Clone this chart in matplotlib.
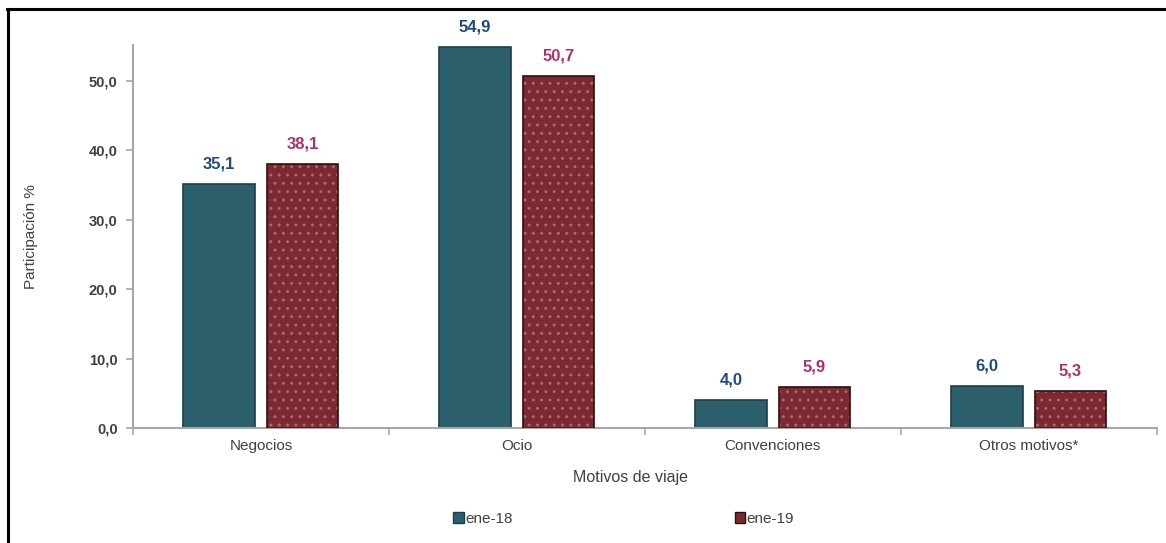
import numpy as np
import matplotlib.pyplot as plt
from matplotlib.lines import Line2D
from matplotlib.patches import Patch

# participacion por motivo de viaje
motivos = ['Negocios', 'Ocio', 'Convenciones', 'Otros motivos*']
ene18 = [35.1, 54.9, 4.0, 6.0]
ene19 = [38.1, 50.7, 5.9, 5.3]
series = ['ene-18', 'ene-19']

teal = '#2b5f6c'
wine = '#7b2a30'
dots = '#b8606e'
lbl18 = '#1f4b7a'
lbl19 = '#a8336e'
grey = '#a6a6a6'
txt = '#404040'

plt.rcParams['font.family'] = ['Liberation Sans', 'DejaVu Sans']

fig = plt.figure(figsize=(11.66, 5.43), dpi=100)
ax = fig.add_axes([0.114, 0.212, 0.878, 0.705])

x = np.arange(len(motivos)) + 0.5
w = 0.28
off = 0.163

ax.bar(x - off, ene18, w, color=teal, edgecolor='#1d3f48', linewidth=1.2, zorder=2)
ax.bar(x + off, ene19, w, color=wine, edgecolor=dots, hatch='..', linewidth=0, zorder=2)
ax.bar(x + off, ene19, w, fill=False, edgecolor='#2a0f12', linewidth=1.2, zorder=3)

for xi, v in zip(x - off, ene18):
    ax.text(xi, v + 1.8, f'{v:.1f}'.replace('.', ','), ha='center', va='bottom',
            fontsize=12, fontweight='bold', color=lbl18)
for xi, v in zip(x + off, ene19):
    ax.text(xi, v + 1.8, f'{v:.1f}'.replace('.', ','), ha='center', va='bottom',
            fontsize=12, fontweight='bold', color=lbl19)

ax.set_xlim(0, len(motivos))
ax.set_ylim(0, 55.2)
ax.set_yticks(np.arange(0, 51, 10))
ax.set_yticklabels([f'{t:.1f}'.replace('.', ',') for t in np.arange(0, 51, 10)],
                   fontsize=10.5, color=txt, fontweight='bold')
ax.set_xticks(np.arange(len(motivos) + 1))
ax.set_xticklabels([])
ax.set_xticks(x, minor=True)
ax.set_xticklabels(motivos, minor=True, fontsize=11, color=txt)
ax.tick_params(axis='x', which='minor', length=0, pad=8)
ax.tick_params(axis='x', which='major', length=5, color=grey, width=1.2)
ax.tick_params(axis='y', length=5, color=grey, width=1.2, pad=6)

for s in ['top', 'right']:
    ax.spines[s].set_visible(False)
for s in ['left', 'bottom']:
    ax.spines[s].set_color(grey)
    ax.spines[s].set_linewidth(1.5)

ax.set_ylabel('Participación %', fontsize=11, color=txt)
ax.yaxis.set_label_coords(-0.093, 0.5)
ax.set_xlabel('Motivos de viaje', fontsize=11.5, color=txt)
ax.xaxis.set_label_coords(0.486, -0.11)

handles = [Patch(facecolor=teal, edgecolor='#1d3f48'),
           Patch(facecolor=wine, edgecolor='#2a0f12')]
fig.legend(handles, series, loc='center', bbox_to_anchor=(0.535, 0.045), ncol=2,
           frameon=False, fontsize=11, handlelength=0.7, handleheight=0.7,
           handletextpad=0.1, columnspacing=14.5, labelcolor=txt)

# marco superior e izquierdo
fig.add_artist(Line2D([0.006, 1.0], [0.983, 0.983], color='black', linewidth=2.2))
fig.add_artist(Line2D([0.007, 0.007], [0.0, 0.983], color='black', linewidth=2.2))

fig.savefig('out.png', dpi=100, facecolor='white')
